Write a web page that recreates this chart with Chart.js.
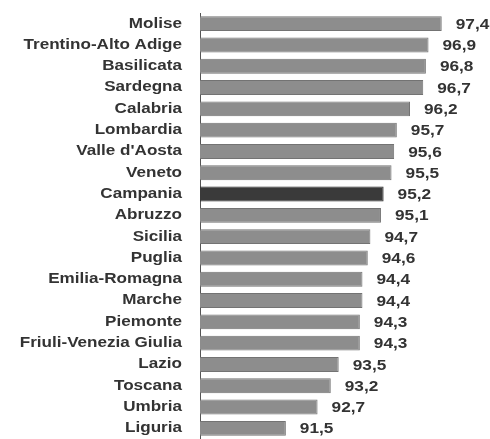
<!DOCTYPE html>
<html>
<head>
<meta charset="utf-8">
<script src="https://cdn.jsdelivr.net/npm/chart.js@4/dist/chart.umd.min.js"></script>
<style>
  body { margin: 0; background: #fff; }
  #wrap { width: 490px; height: 439px; position: relative; }
</style>
</head>
<body>
<div id="wrap"><canvas id="myChart"></canvas></div>
<script>
const regions = [
  'Molise', 'Trentino-Alto Adige', 'Basilicata', 'Sardegna', 'Calabria',
  'Lombardia', "Valle d'Aosta", 'Veneto', 'Campania', 'Abruzzo',
  'Sicilia', 'Puglia', 'Emilia-Romagna', 'Marche', 'Piemonte',
  'Friuli-Venezia Giulia', 'Lazio', 'Toscana', 'Umbria', 'Liguria'
];
const values = [
  97.4, 96.9, 96.8, 96.7, 96.2,
  95.7, 95.6, 95.5, 95.2, 95.1,
  94.7, 94.6, 94.4, 94.4, 94.3,
  94.3, 93.5, 93.2, 92.7, 91.5
];
const highlight = 'Campania';

// draws region names and value labels (stretched a bit like the scan)
const labelPlugin = {
  id: 'labels',
  afterDatasetsDraw(chart) {
    const ctx = chart.ctx;
    const yScale = chart.scales.y;
    const meta = chart.getDatasetMeta(0);
    ctx.save();
    ctx.fillStyle = '#333';
    ctx.textBaseline = 'middle';
    regions.forEach((name, i) => {
      const y = yScale.getPixelForValue(i);
      ctx.save();
      ctx.translate(182, y);
      ctx.scale(1.22, 1);
      ctx.font = 'bold 14px "Liberation Sans", Arial, sans-serif';
      ctx.textAlign = 'right';
      ctx.fillText(name, 0, 0);
      ctx.restore();

      const bar = meta.data[i];
      ctx.save();
      ctx.translate(bar.x + 14, y + 1);
      ctx.scale(1.15, 1);
      ctx.font = 'bold 15px "Liberation Sans", Arial, sans-serif';
      ctx.textAlign = 'left';
      ctx.fillText(values[i].toFixed(1).replace('.', ','), 0, 0);
      ctx.restore();
    });
    ctx.restore();
  }
};

const ctx = document.getElementById('myChart');

new Chart(ctx, {
  type: 'bar',
  data: {
    labels: regions,
    datasets: [{
      data: values,
      backgroundColor: regions.map(r => r === highlight ? '#3a3a3a' : '#8d8d8d'),
      borderColor: regions.map(r => r === highlight ? '#262626' : '#737373'),
      borderWidth: 1,
      barPercentage: 0.7,
      categoryPercentage: 1
    }]
  },
  options: {
    indexAxis: 'y',
    responsive: true,
    maintainAspectRatio: false,
    animation: false,
    layout: { padding: { top: 13, right: 6, bottom: 0, left: 0 } },
    scales: {
      x: {
        display: false,
        min: 88.25,
        max: 99
      },
      y: {
        grid: { display: false },
        border: { display: true, color: '#555', width: 1 },
        ticks: { display: false },
        afterFit(scale) { scale.width = 200; }
      }
    },
    plugins: {
      legend: { display: false },
      tooltip: { enabled: false }
    }
  },
  plugins: [labelPlugin]
});
</script>
</body>
</html>
